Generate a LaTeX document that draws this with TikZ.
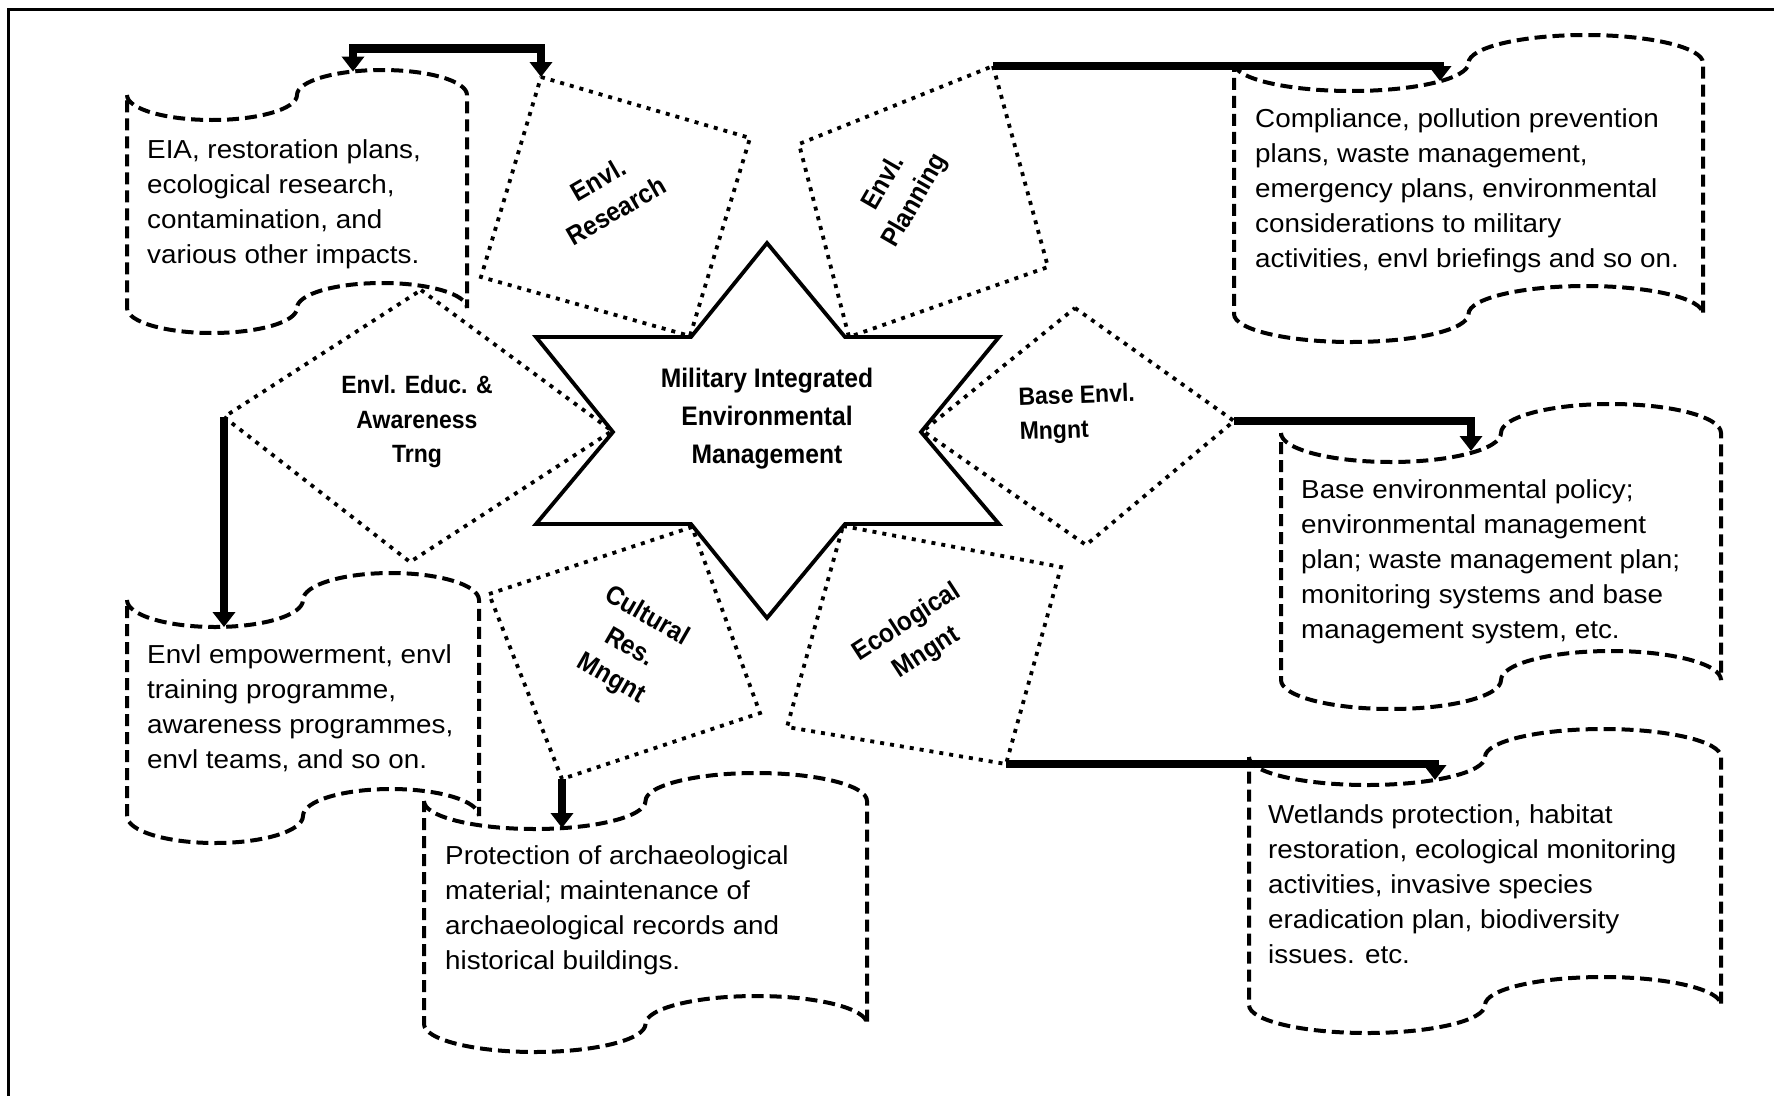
\documentclass[tikz,border=0pt]{standalone}
\usepackage{fontspec}
\setmainfont{Liberation Sans}
\newfontfamily\bodyfont{Liberation Sans}[FakeStretch=1.07]
\newfontfamily\labelfont{Liberation Sans}[FakeStretch=0.92]
\usetikzlibrary{arrows.meta}
% left, right, top middle, bottom middle, wave height
\newcommand{\tapebox}[5]{%
  \pgfmathsetmacro{\qw}{(#2-#1)/4}%
  \pgfmathsetmacro{\qk}{0.5523*\qw}%
  \pgfmathsetmacro{\ak}{0.5523*#5}%
  \pgfmathsetmacro{\xa}{#1+\qw}%
  \pgfmathsetmacro{\xb}{#1+2*\qw}%
  \pgfmathsetmacro{\xc}{#1+3*\qw}%
  \draw[tapeline] (#1,#3)
    .. controls (#1,{#3+\ak}) and ({\xa-\qk},{#3+#5}) .. (\xa,{#3+#5})
    .. controls ({\xa+\qk},{#3+#5}) and (\xb,{#3+\ak}) .. (\xb,#3)
    .. controls (\xb,{#3-\ak}) and ({\xc-\qk},{#3-#5}) .. (\xc,{#3-#5})
    .. controls ({\xc+\qk},{#3-#5}) and (#2,{#3-\ak}) .. (#2,#3)
    -- (#2,#4)
    .. controls (#2,{#4-\ak}) and ({\xc+\qk},{#4-#5}) .. (\xc,{#4-#5})
    .. controls ({\xc-\qk},{#4-#5}) and (\xb,{#4-\ak}) .. (\xb,#4)
    .. controls (\xb,{#4+\ak}) and ({\xa+\qk},{#4+#5}) .. (\xa,{#4+#5})
    .. controls ({\xa-\qk},{#4+#5}) and (#1,{#4+\ak}) .. (#1,#4)
    -- cycle;}

\begin{document}
\begin{tikzpicture}[x=1pt, y=-1pt,
    >={Triangle[length=15pt,width=22pt]},
    tapeline/.style={line width=4pt, dash pattern=on 12pt off 6pt},
    dotbox/.style={line width=3.8pt, dash pattern=on 4pt off 6pt},
    flowline/.style={line width=8.5pt, ->},
    bodytext/.style={anchor=north west, inner sep=0pt, align=left,
      font=\bodyfont\fontsize{26}{35}\selectfont},
    tagtext/.style={inner sep=0pt, align=center,
      font=\labelfont\bfseries\fontsize{25}{34.5}\selectfont},
    turnedtext/.style={inner sep=0pt, align=center,
      font=\labelfont\bfseries\fontsize{26.5}{36}\selectfont}]
  \useasboundingbox (0,0) rectangle (1774,1095);
  \draw[line width=2.7pt] (8.5,9.3) rectangle (1800,1120);

  % centre star
  \draw[line width=3.8pt] (767,243) -- (845,337) -- (999,337) -- (921,432)
    -- (999,524) -- (845,524) -- (767,618) -- (691,524) -- (536,524)
    -- (613,432) -- (536,337) -- (691,337) -- cycle;
  \node[tagtext, font=\labelfont\bfseries\fontsize{26.8}{38}\selectfont] (mime) at (767,419)
    {Military Integrated\\Environmental\\Management};

  % dotted squares round the star
  \coordinate (res-n) at (541,77);
  \draw[dotbox] (res-n) -- (750,138) -- (690,336) -- (481,277) -- cycle;
  \node[turnedtext, rotate=30] (research) at (607,195) {Envl.\\Research};

  \coordinate (plan-n) at (993,66);
  \draw[dotbox] (plan-n) -- (1048,267) -- (849,337) -- (799,144) -- cycle;
  \node[turnedtext, rotate=60] (planning) at (900,192) {Envl.\\Planning};

  \coordinate (educ-w) at (224,417);
  \draw[dotbox] (421,290) -- (612,431) -- (410,562) -- (educ-w) -- cycle;
  \node[tagtext] (educ) at (417,422) {Envl. Educ. \&\\Awareness\\Trng};

  \coordinate (base-e) at (1234,421);
  \draw[dotbox] (1075,308) -- (base-e) -- (1086,545) -- (923,431) -- cycle;
  \node[tagtext, anchor=north west, align=left, rotate=2] (baseenv) at (1018,387)
    {Base Envl.\\Mngnt};

  \coordinate (cul-s) at (562,779);
  \draw[dotbox] (489,594) -- (692,527) -- (760,713) -- (cul-s) -- cycle;
  \node[turnedtext, rotate=-30] (cultural) at (629,648) {Cultural\\Res.\\Mngnt};

  \coordinate (eco-se) at (1006,764);
  \draw[dotbox] (843,526) -- (1061,567) -- (eco-se) -- (787,727) -- cycle;
  \node[turnedtext, rotate=33] (ecolog) at (917,638) {Ecological\\Mngnt};

  % dashed tapes
  \tapebox{127}{467}{95}{308}{25}
  \tapebox{1234}{1703}{63}{314}{28}
  \tapebox{1281}{1721}{433}{680}{29}
  \tapebox{1249}{1721}{757}{1005}{28}
  \tapebox{127}{479}{600}{816}{27}
  \tapebox{424}{867}{801}{1024}{28}

  \node[bodytext] (eiatxt) at (147,139)
    {EIA, restoration plans,\\ecological research,\\contamination, and\\various other impacts.};
  \node[bodytext] (comptxt) at (1255,108)
    {Compliance, pollution prevention\\plans, waste management,\\emergency plans, environmental\\considerations to military\\activities, envl briefings and so on.};
  \node[bodytext] (basetxt) at (1301,479)
    {Base environmental policy;\\environmental management\\plan; waste management plan;\\monitoring systems and base\\management system, etc.};
  \node[bodytext] (wettxt) at (1268,804)
    {Wetlands protection, habitat\\restoration, ecological monitoring\\activities, invasive species\\eradication plan, biodiversity\\issues. etc.};
  \node[bodytext] (emptxt) at (147,644)
    {Envl empowerment, envl\\training programme,\\awareness programmes,\\envl teams, and so on.};
  \node[bodytext] (prottxt) at (445,845)
    {Protection of archaeological\\material; maintenance of\\archaeological records and\\historical buildings.};

  % arrows
  \coordinate (eia-in) at (353,71.5);
  \coordinate (comp-in) at (1440,81);
  \coordinate (basebox-in) at (1471,451);
  \coordinate (wet-in) at (1435,780);
  \coordinate (emp-in) at (224,627);
  \coordinate (prot-in) at (562,828);
  \draw[flowline, <->] (eia-in) -- ++(0,-23) -| (res-n);
  \draw[flowline] (plan-n) -| (comp-in);
  \draw[flowline] (base-e) -| (basebox-in);
  \draw[flowline] (eco-se) -| (wet-in);
  \draw[flowline] (educ-w) -- (emp-in);
  \draw[flowline] (cul-s) -- (prot-in);
\end{tikzpicture}
\end{document}
